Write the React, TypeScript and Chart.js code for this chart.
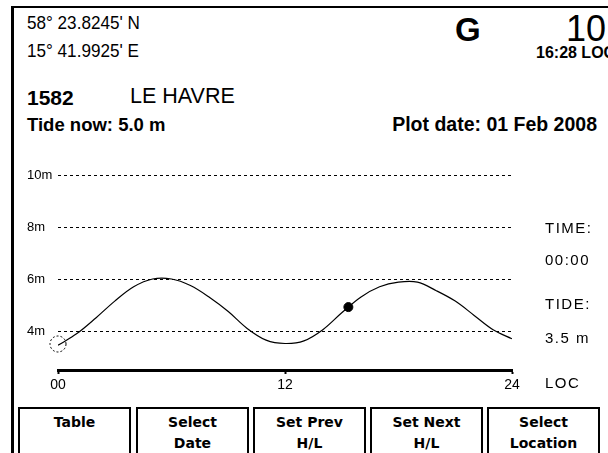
import React, { useEffect, useRef } from "react";
import { Chart, registerables } from "chart.js";

Chart.register(...registerables);

// ---- data ----
const hours = [0, 1, 2, 3, 4, 5, 6, 7, 8, 9, 10, 11, 12, 13, 14, 15, 16, 17, 18, 19, 20, 21, 22, 23, 24];
const tideMeters = [3.45, 3.9, 4.5, 5.15, 5.7, 6.0, 6.0, 5.75, 5.3, 4.75, 4.1, 3.65, 3.52, 3.62, 4.05, 4.7, 5.3, 5.7, 5.88, 5.88, 5.55, 5.15, 4.6, 4.05, 3.7];
const nowPoint = { x: 15.35, y: 4.92 };
const cursorPoint = { x: 0, y: 3.5 };
const yTickValues = [4, 6, 8, 10];
const xTickValues = [0, 12, 24];
const xTickLabels = ["00", "12", "24"];
const sidePanel = ["TIME:", "00:00", "TIDE:", "3.5 m"];
const buttonLabels = [
  ["Table", ""],
  ["Select", "Date"],
  ["Set Prev", "H/L"],
  ["Set Next", "H/L"],
  ["Select", "Location"],
];

const SANS = '"Liberation Sans", Arial, sans-serif';
const BTN = '"DejaVu Sans", Verdana, sans-serif';

function T(props: {
  x?: number;
  right?: number;
  y: number;
  size: number;
  bold?: boolean;
  family?: string;
  spacing?: number;
  sx?: number;
  children: React.ReactNode;
}) {
  const { x, right, y, size, bold, family, spacing, sx, children } = props;
  const style: React.CSSProperties = {
    position: "absolute",
    top: y - size / 2,
    fontSize: size,
    lineHeight: `${size}px`,
    fontWeight: bold ? "bold" : "normal",
    fontFamily: family || SANS,
    whiteSpace: "nowrap",
    color: "#000",
    letterSpacing: spacing ? `${spacing}px` : undefined,
  };
  if (sx) {
    style.transform = `scaleX(${sx})`;
    style.transformOrigin = right !== undefined ? "right center" : "left center";
  }
  if (x !== undefined) style.left = x;
  if (right !== undefined) style.right = right;
  return <div style={style}>{children}</div>;
}

export default function App() {
  const canvasRef = useRef<HTMLCanvasElement | null>(null);

  useEffect(() => {
    if (!canvasRef.current) return;
    const ring = document.createElement("canvas");
    ring.width = 20;
    ring.height = 20;
    const rc = ring.getContext("2d");
    if (rc) {
      rc.setLineDash([2, 2]);
      rc.lineWidth = 1;
      rc.strokeStyle = "#000";
      rc.beginPath();
      rc.arc(10, 10, 8, 0, Math.PI * 2);
      rc.stroke();
    }

    const chart = new Chart(canvasRef.current, {
      type: "line",
      data: {
        datasets: [
          {
            data: hours.map((h, i) => ({ x: h, y: tideMeters[i] })),
            borderColor: "#000",
            borderWidth: 1.2,
            pointRadius: 0,
            tension: 0.35,
            fill: false,
          },
          {
            type: "scatter",
            data: [nowPoint],
            pointRadius: 4.5,
            backgroundColor: "#000",
            borderColor: "#000",
          },
          {
            type: "scatter",
            data: [cursorPoint],
            pointStyle: ring as any,
            pointRadius: 9,
            clip: false as any,
          },
        ] as any,
      },
      options: {
        animation: false,
        responsive: false,
        maintainAspectRatio: false,
        events: [],
        layout: { padding: { left: 27, top: 25, right: 96, bottom: 0 } },
        plugins: { legend: { display: false }, tooltip: { enabled: false } },
        scales: {
          x: {
            type: "linear",
            min: 0,
            max: 24,
            afterBuildTicks: (s: any) => {
              s.ticks = xTickValues.map((v) => ({ value: v }));
            },
            afterFit: (s: any) => {
              s.height = 30;
            },
            ticks: {
              autoSkip: false,
              maxRotation: 0,
              padding: 3,
              color: "#000",
              font: { family: SANS, size: 14 },
              callback: (v: any) => {
                const i = xTickValues.indexOf(Number(v));
                return i >= 0 ? xTickLabels[i] : "";
              },
            },
            grid: {
              drawOnChartArea: false,
              drawTicks: true,
              tickLength: 4,
              tickColor: "#000",
              tickWidth: 2,
            },
            border: { color: "#000", width: 3 },
          },
          y: {
            min: 2.5,
            max: 10,
            afterBuildTicks: (s: any) => {
              s.ticks = yTickValues.map((v) => ({ value: v }));
            },
            afterFit: (s: any) => {
              s.width = 31;
            },
            ticks: {
              crossAlign: "far",
              color: "#000",
              font: { family: SANS, size: 13 },
              callback: (v: any) => `${v}m`,
            },
            grid: { color: "#000", lineWidth: 1, drawTicks: false },
            border: { display: false, dash: [3, 3] },
          },
        },
      } as any,
    });
    return () => chart.destroy();
  }, []);

  const btnX = [18, 136, 253, 370, 487];

  return (
    <div
      style={{
        position: "fixed",
        left: 0,
        top: 0,
        width: 608,
        height: 453,
        background: "#fff",
        overflow: "hidden",
      }}
    >
      <div
        style={{
          position: "absolute",
          left: 11,
          top: 6,
          width: 620,
          height: 460,
          borderLeft: "3px solid #000",
          borderTop: "2px solid #000",
        }}
      />
      <T x={27} y={22} size={19} sx={0.9}>58° 23.8245' N</T>
      <T x={27} y={50} size={19} sx={0.9}>15° 41.9925' E</T>
      <T x={455} y={29} size={33} bold>G</T>
      <T x={566} y={29} size={36}>10</T>
      <T x={536} y={53} size={16} bold>16:28 LOC</T>
      <T x={27} y={97} size={21} bold>1582</T>
      <T x={130} y={97} size={21.5}>LE HAVRE</T>
      <T x={27} y={125} size={18.5} bold>Tide now: 5.0 m</T>
      <T right={11} y={125} size={19.5} bold>Plot date: 01 Feb 2008</T>

      <canvas
        ref={canvasRef}
        width={608}
        height={250}
        style={{ position: "absolute", left: 0, top: 150, width: 608, height: 250 }}
      />

      <T x={545} y={227} size={15} spacing={1.5}>{sidePanel[0]}</T>
      <T x={545} y={259} size={15} spacing={1.5}>{sidePanel[1]}</T>
      <T x={545} y={303} size={15} spacing={1.5}>{sidePanel[2]}</T>
      <T x={545} y={337} size={15} spacing={1.5}>{sidePanel[3]}</T>
      <T x={545} y={382} size={15} spacing={1.5}>LOC</T>

      {buttonLabels.map((lbl, i) => (
        <div
          key={i}
          style={{
            position: "absolute",
            left: btnX[i],
            top: 407,
            width: 113,
            height: 60,
            boxSizing: "border-box",
            border: "2px solid #000",
            fontFamily: BTN,
            fontWeight: "bold",
            fontSize: 14,
            color: "#000",
            textAlign: "center",
          }}
        >
          <div style={{ position: "absolute", left: 0, right: 0, top: 5, lineHeight: "16px" }}>{lbl[0]}</div>
          <div style={{ position: "absolute", left: 0, right: 0, top: 26, lineHeight: "16px" }}>{lbl[1]}</div>
        </div>
      ))}
    </div>
  );
}
